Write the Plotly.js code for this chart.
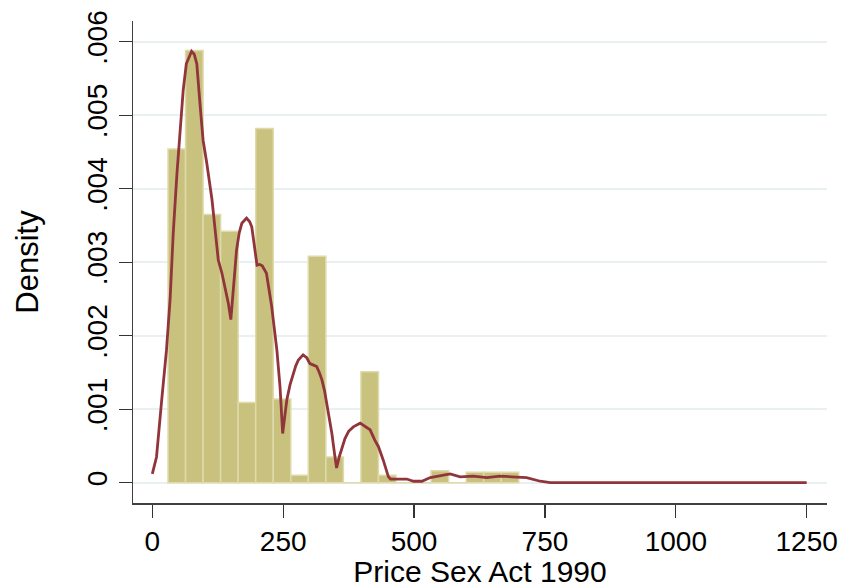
<!DOCTYPE html>
<html>
<head>
<meta charset="utf-8">
<script src="https://cdn.plot.ly/plotly-3.0.1.min.js"></script>
<style>
html,body{margin:0;padding:0;background:#fff;}
#chart{width:847px;height:588px;}
</style>
</head>
<body>
<div id="chart"></div>
<script>
// Histogram bins (lower edges), bin width, and densities
const binWidth = 33.5;
const binLower = [30, 63.5, 97, 130.5, 164, 197.5, 231, 264.5, 298, 331.5,
                  365, 398.5, 432, 465.5, 499, 532.5, 566, 599.5, 633, 666.5];
const binDensity = [0.00454, 0.00588, 0.00365, 0.00342, 0.00109, 0.00482, 0.00114, 0.00010, 0.00308, 0.00035,
                    0, 0.00151, 0.00010, 0, 0, 0.000163, 0, 0.000141, 0.000141, 0.000141];

// Kernel density curve
const kdeX = [0, 8, 18, 27, 34, 40, 47, 53, 59, 65, 70, 75, 80, 85, 91, 97, 104, 110, 114, 120,
              126, 133, 139, 145, 150, 155, 161, 166, 171, 180, 186, 190, 195, 200, 205, 210, 218, 223, 228, 233,
              238, 244, 249, 253, 257, 263, 269, 274, 279, 288, 295, 301, 308, 314, 319, 324, 329, 333, 338, 343,
              348, 352, 357, 362, 368, 375, 384, 397, 409, 416, 425, 432, 441, 451, 455, 486, 499, 515, 531, 550,
              569, 588, 613, 639, 664, 687, 715, 741, 760, 1000, 1250];
const kdeY = [0.00012, 0.00035, 0.00113, 0.0018, 0.0025, 0.0034, 0.0042, 0.0048, 0.00534, 0.0057, 0.0058, 0.00587, 0.00583, 0.0057, 0.00516, 0.00466, 0.00435, 0.00407, 0.00385, 0.00344,
              0.00303, 0.00285, 0.00267, 0.00245, 0.00222, 0.0027, 0.00317, 0.0034, 0.00353, 0.0036, 0.00355, 0.00348, 0.0032, 0.00296, 0.00297, 0.00295, 0.00285, 0.00265, 0.0024, 0.0021,
              0.0018, 0.0013, 0.00067, 0.0009, 0.00113, 0.00133, 0.00149, 0.00159, 0.00167, 0.00174, 0.0017, 0.00162, 0.0016, 0.00158, 0.0015, 0.0014, 0.00125, 0.00108, 0.0009, 0.00067,
              0.0004, 0.0002, 0.00035, 0.00045, 0.0006, 0.0007, 0.00076, 0.00081, 0.00076, 0.00072, 0.00058, 0.00049, 0.00031, 0.00008, 0.00005, 0.00005, 0.00002, 0.00002, 0.00007, 0.00009,
              0.00012, 0.00008, 0.00009, 0.00007, 0.00009, 0.00008, 0.00007, 0.00002, 0, 0, 0];

const xTicks = [0, 250, 500, 750, 1000, 1250];
const xTickText = ['0', '250', '500', '750', '1000', '1250'];
const yTicks = [0, 0.001, 0.002, 0.003, 0.004, 0.005, 0.006];
const yTickText = ['0', '.001', '.002', '.003', '.004', '.005', '.006'];

const font = 'Liberation Sans, Arial, sans-serif';

const traces = [
  {
    type: 'bar',
    x: binLower,
    y: binDensity,
    width: binDensity.map(() => binWidth),
    offset: 0,
    marker: {color: 'rgb(201,194,126)', line: {color: 'rgb(222,218,170)', width: 1.5}},
    hoverinfo: 'x+y'
  },
  {
    type: 'scatter',
    mode: 'lines',
    x: kdeX,
    y: kdeY,
    line: {color: 'rgb(144,53,59)', width: 2.8},
    hoverinfo: 'x+y'
  }
];

const layout = {
  width: 847,
  height: 588,
  showlegend: false,
  paper_bgcolor: '#fff',
  plot_bgcolor: '#fff',
  bargap: 0,
  margin: {l: 133, r: 20, t: 21, b: 85},
  font: {family: font, color: '#000'},
  xaxis: {
    range: [-36.9, 1288.8],
    tickvals: xTicks,
    ticktext: xTickText,
    ticks: 'outside',
    ticklen: 13,
    tickwidth: 1.3,
    tickcolor: '#333',
    showline: true,
    linecolor: '#404040',
    linewidth: 1.5,
    showgrid: false,
    zeroline: false,
    tickfont: {size: 28, family: font, color: '#000'},
    title: {text: 'Price Sex Act 1990', font: {size: 30, family: font, color: '#000'}, standoff: 0}
  },
  yaxis: {
    range: [-0.000276, 0.006282],
    tickvals: yTicks,
    ticktext: yTickText,
    tickangle: -90,
    ticks: 'outside',
    ticklen: 13,
    tickwidth: 1.3,
    tickcolor: '#333',
    showline: true,
    linecolor: '#404040',
    linewidth: 1.5,
    showgrid: true,
    gridcolor: 'rgb(232,240,242)',
    gridwidth: 2,
    zeroline: false,
    tickfont: {size: 28, family: font, color: '#000'},
    title: {text: 'Density', font: {size: 31, family: font, color: '#000'}, standoff: 34}
  }
};

Plotly.newPlot('chart', traces, layout, {displayModeBar: false, staticPlot: true});
</script>
</body>
</html>
